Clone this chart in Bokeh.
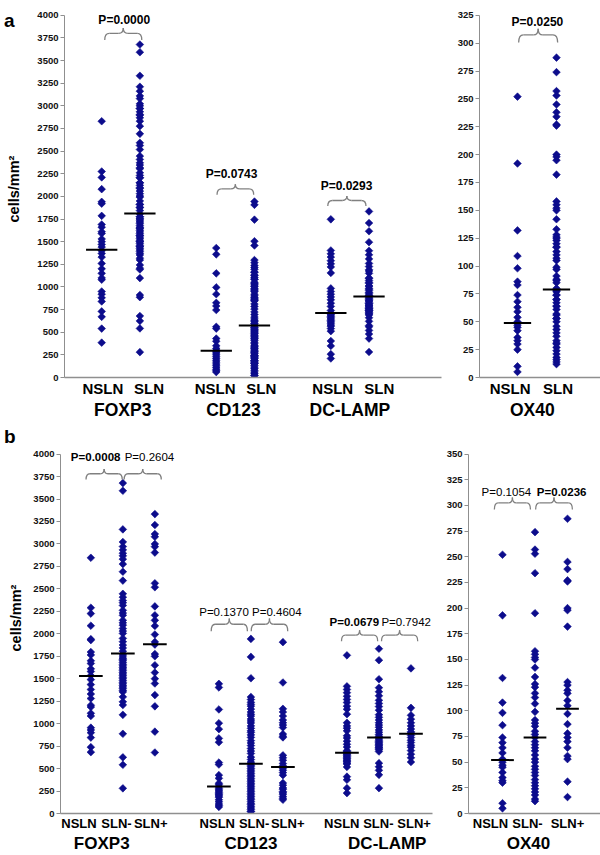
from bokeh.plotting import figure
from bokeh.models import Range1d, LinearAxis, FixedTicker, SingleIntervalTicker, Label, ColumnDataSource
from bokeh.layouts import row, column
from bokeh.embed import file_html
from bokeh.resources import INLINE

# ---------------- categories ----------------
groups_main = ["FOXP3", "CD123", "DC-LAMP"]
groups_ox = ["OX40"]
subs_a = ["NSLN", "SLN"]
subs_b = ["NSLN", "SLN-", "SLN+"]

# ---------------- panel b values (cells/mm2) ----------------
b_foxp3_nsln = [2846, 2290, 2225, 2090, 1940, 1930, 1797, 1765, 1700, 1670, 1610, 1580, 1535, 1490,
                1435, 1380, 1330, 1280, 1205, 1185, 1115, 1085, 955, 930, 900, 845, 738, 683]
b_foxp3_slnneg = [3677, 3592, 3162, 3022, 2971, 2934, 2897, 2868, 2831, 2776, 2691, 2592, 2445, 2408,
                  2371, 2346, 2316, 2261, 2232, 2206, 2151, 2122, 2096, 2059, 2030, 2004, 1949, 1912,
                  1875, 1843, 1807, 1775, 1752, 1730, 1716, 1700, 1680, 1660, 1643, 1625, 1607, 1590,
                  1570, 1552, 1535, 1516, 1500, 1480, 1460, 1443, 1425, 1407, 1390, 1370, 1353, 1298,
                  1243, 1207, 1098, 887, 625, 542, 280]
b_foxp3_slnpos = [3332, 3211, 3110, 3080, 3000, 2970, 2904, 2562, 2518, 2305, 2206, 2150, 2088, 1992,
                  1910, 1880, 1775, 1750, 1650, 1568, 1500, 1447, 1318, 1193, 911, 679]

b_cd123_nsln = [1443, 1403, 1158, 1005, 939, 836, 793, 567, 545, 427, 391, 336, 320, 299, 280, 263,
                250, 235, 220, 208, 195, 180, 153, 130, 106, 90, 73]
b_cd123_slnneg = [1943, 1743, 1505, 1297, 1268, 1238, 1215, 1195, 1162, 1130, 1105, 1085, 1052, 1030,
                  1008, 975, 948, 920, 902, 875, 847, 811, 785, 756, 723, 695, 668, 628, 600, 573,
                  556, 537, 520, 500, 482, 464, 445, 427, 410, 390, 372, 354, 336, 318, 300, 282,
                  262, 244, 225, 208, 190, 172, 155, 135, 115, 99, 80, 62, 45, 25, 20]
b_cd123_slnpos = [1907, 1458, 1165, 1130, 1085, 1040, 1010, 985, 957, 884, 860, 847, 647, 620, 592,
                  556, 530, 505, 482, 455, 427, 340, 315, 285, 270, 244, 230, 215, 190, 170, 153]

b_dclamp_nsln = [1760, 1415, 1380, 1345, 1305, 1270, 1235, 1195, 1160, 1105, 1010, 975, 950, 920,
                 865, 840, 805, 770, 740, 700, 690, 680, 665, 660, 645, 635, 620, 610, 595, 585,
                 575, 560, 550, 518, 410, 375, 282, 227]
b_dclamp_slnneg = [1834, 1706, 1494, 1400, 1355, 1310, 1260, 1225, 1190, 1150, 1100, 1070, 1040, 1010,
                   985, 960, 930, 905, 880, 860, 847, 830, 815, 800, 790, 775, 765, 755, 740, 735,
                   720, 710, 690, 560, 520, 480, 430, 282]
b_dclamp_slnpos = [1615, 1176, 1093, 1050, 1010, 975, 940, 910, 895, 870, 845, 815, 790, 760, 738,
                   700, 660, 620, 573]

b_ox40_nsln = [252, 193, 132, 108, 98, 86, 74, 69, 64, 59, 53, 50, 47, 45, 40, 35, 32, 30, 10, 5]
b_ox40_slnneg = [274, 257, 253, 234, 195, 158, 155, 152, 150, 142, 133, 126, 123, 117, 113, 107, 99,
                 91, 88, 85, 80, 77, 74, 70, 67, 64, 61, 57, 53, 50, 46, 43, 40, 37, 33, 30, 27,
                 24, 21, 18, 14, 12]
b_ox40_slnpos = [287, 245, 238, 227, 226, 200, 198, 182, 128, 125, 120, 117, 110, 105, 97, 87, 78,
                 74, 70, 64, 56, 53, 31, 16]

# ---------------- panel a NSLN values (SLN = SLN- and SLN+ together) ----------------
a_foxp3_nsln = [2830, 2275, 2210, 2080, 1940, 1920, 1785, 1690, 1660, 1610, 1590, 1530, 1500, 1470,
                1440, 1400, 1370, 1330, 1260, 1200, 1150, 1100, 1080, 950, 920, 880, 840, 730, 670,
                540, 385]
a_cd123_nsln = [1430, 1360, 1150, 995, 920, 825, 790, 745, 560, 540, 430, 400, 350, 320, 300, 285,
                270, 250, 230, 210, 190, 170, 150, 130, 110, 90, 75, 60]
a_dclamp_nsln = [1747, 1403, 1366, 1330, 1290, 1255, 1221, 1155, 984, 950, 920, 890, 858, 821, 785,
                 740, 712, 700, 690, 675, 660, 645, 630, 615, 600, 580, 567, 540, 512, 403, 349,
                 258, 210]
a_ox40_nsln = [252, 192, 132, 109, 98, 86, 83, 74, 68, 63, 59, 54, 50, 47, 45, 42, 36, 33, 30, 25,
               10, 5]

# ---------------- medians ----------------
medians_a = [[1410, 1810], [295, 575], [712, 895]]
medians_a_ox40 = [[49, 79]]
medians_b = [[1530, 1780, 1885], [300, 555, 518], [676, 847, 888]]
medians_b_ox40 = [[52, 74, 102]]

# ---------------- p values ----------------
pvals_a = [["0.0000"], ["0.0743"], ["0.0293"]]
pvals_a_ox40 = [["0.0250"]]
pvals_b = [["0.0008", "0.2604"], ["0.1370", "0.4604"], ["0.0679", "0.7942"]]
pvals_b_ox40 = [["0.1054", "0.0236"]]

# ---------------- tables built from the lists ----------------
cols_a = [[a_foxp3_nsln, b_foxp3_slnneg + b_foxp3_slnpos],
          [a_cd123_nsln, b_cd123_slnneg + b_cd123_slnpos],
          [a_dclamp_nsln, b_dclamp_slnneg + b_dclamp_slnpos]]
cols_a_ox40 = [[a_ox40_nsln, b_ox40_slnneg + b_ox40_slnpos]]
cols_b = [[b_foxp3_nsln, b_foxp3_slnneg, b_foxp3_slnpos],
          [b_cd123_nsln, b_cd123_slnneg, b_cd123_slnpos],
          [b_dclamp_nsln, b_dclamp_slnneg, b_dclamp_slnpos]]
cols_b_ox40 = [[b_ox40_nsln, b_ox40_slnneg, b_ox40_slnpos]]

# ---------------- layout / style ----------------
FONT = "Liberation Sans"
DOT = "#0c0c8c"
GRAY = "#8f8f8f"
BRACE = "#808080"

# annotation placement: (text_x, text_y, brace_x0, brace_x1, brace_tip_y, brace_end_y)
ann_a = [[(1.59, 3946, 1.08, 2.05, 3859, 3728)],
         [(4.40, 2250, 4.02, 4.98, 2135, 2018)],
         [(7.41, 2115, 6.92, 7.92, 2004, 1895)]]
ann_a_ox40 = [[(1.51, 319, 1.03, 2.03, 313, 300.5)]]
ann_b = [[(1.15, 3970, 0.85, 1.98, 3835, 3716), (2.83, 3970, 2.04, 3.20, 3835, 3716)],
         [(5.16, 2247, 4.76, 5.89, 2170, 2028), (6.81, 2247, 6.01, 7.15, 2170, 2028)],
         [(9.23, 2126, 8.83, 9.96, 2039, 1918), (10.85, 2126, 10.08, 11.21, 2039, 1918)]]
ann_b_ox40 = [[(1.12, 313, 0.75, 1.86, 307.7, 296), (2.82, 313, 2.02, 3.15, 307.7, 296)]]


def build(width, height, borders, top_px, slot_px, x_start, y_max, y_step, groups, subs, cols,
          meds, half, sub_pos, grp_pos, sub_font, grp_font, pvals, anns, p_font,
          y_label=None, y_label_standoff=4, tag=None, tag_py=None, tag_standoff=-10):
    # top_px: distance in pixels from the figure's top edge to the y_max tick
    left, right, bottom = borders
    frame_w = width - left - right
    frame_h = height - bottom
    x_end = x_start + frame_w / slot_px
    y_end = y_max * frame_h / (frame_h - top_px)
    p = figure(width=width, height=height, x_range=Range1d(x_start, x_end),
               y_range=Range1d(0, y_end), output_backend="svg", toolbar_location=None,
               x_axis_type=None, y_axis_type=None,
               min_border_left=left, min_border_right=right,
               min_border_top=0, min_border_bottom=bottom)
    p.outline_line_color = None
    p.border_fill_color = "white"

    def dy(py):
        return y_end * (1 - py / frame_h)

    n_sub = len(subs)
    xs, ys, mx0, mx1, my = [], [], [], [], []
    for gi, (gcols, gmeds) in enumerate(zip(cols, meds)):
        for si, (vals, med) in enumerate(zip(gcols, gmeds)):
            slot = gi * (n_sub + 1) + si + 1
            xs += [slot] * len(vals)
            ys += list(vals)
            mx0.append(slot - half)
            mx1.append(slot + half)
            my.append(med)
    p.scatter(x="x", y="y", source=ColumnDataSource(dict(x=xs, y=ys)), marker="square",
              angle=0.785398, size=5.4, fill_color=DOT, line_color=DOT, line_width=0.6)
    p.segment(x0=mx0, y0=my, x1=mx1, y1=my, line_color="black", line_width=2)

    # braces + p-values
    q = dict(x0=[], y0=[], x1=[], y1=[], cx=[], cy=[])
    s = dict(x0=[], y0=[], x1=[], y1=[])
    for gp, ga in zip(pvals, anns):
        for pv, (tx, ty, bx0, bx1, yt, ye) in zip(gp, ga):
            bold = float(pv) < 0.1
            p.add_layout(Label(x=tx, y=ty, text="P=" + pv, text_align="center",
                               text_baseline="middle", text_font=FONT, text_font_size=p_font,
                               text_font_style="bold" if bold else "normal", text_color="black"))
            ym = ye + 0.55 * (yt - ye)
            xc = 0.5 * (bx0 + bx1)
            r = min(0.12, (bx1 - bx0) / 4)
            for a0, b0, a1, b1, c0, c1 in [(bx0, ye, bx0 + r, ym, bx0, ym),
                                           (xc - r, ym, xc, yt, xc, ym),
                                           (xc, yt, xc + r, ym, xc, ym),
                                           (bx1 - r, ym, bx1, ye, bx1, ym)]:
                q["x0"].append(a0); q["y0"].append(b0); q["x1"].append(a1)
                q["y1"].append(b1); q["cx"].append(c0); q["cy"].append(c1)
            for a0, a1 in [(bx0 + r, xc - r), (xc + r, bx1 - r)]:
                s["x0"].append(a0); s["x1"].append(a1); s["y0"].append(ym); s["y1"].append(ym)
    p.quadratic(x0="x0", y0="y0", x1="x1", y1="y1", cx="cx", cy="cy",
                source=ColumnDataSource(q), line_color=BRACE, line_width=1.3)
    p.segment(x0="x0", y0="y0", x1="x1", y1="y1", source=ColumnDataSource(s),
              line_color=BRACE, line_width=1.3)

    # y axis (line and ticks limited to 0..y_max)
    yax = LinearAxis(ticker=SingleIntervalTicker(interval=y_step, num_minor_ticks=0),
                     bounds=(0, y_max))
    yax.axis_line_color = GRAY
    yax.major_tick_line_color = GRAY
    yax.major_tick_out = 4
    yax.major_tick_in = 0
    yax.minor_tick_line_color = None
    yax.major_label_standoff = 2
    yax.major_label_text_font = FONT
    yax.major_label_text_font_size = "9.5px"
    yax.major_label_text_font_style = "bold"
    yax.major_label_text_color = "#111111"
    if y_label:
        yax.axis_label = y_label
        yax.axis_label_text_font = FONT
        yax.axis_label_text_font_size = "14.5px"
        yax.axis_label_text_font_style = "bold"
        yax.axis_label_text_color = "black"
        yax.axis_label_standoff = y_label_standoff
    p.add_layout(yax, "left")

    if tag:
        ty = dy(tag_py)
        tax = LinearAxis(ticker=FixedTicker(ticks=[ty], minor_ticks=[]),
                         major_label_overrides={ty: tag})
        tax.axis_line_color = None
        tax.major_tick_line_color = None
        tax.minor_tick_line_color = None
        tax.major_tick_out = 0
        tax.major_tick_in = 0
        tax.major_label_standoff = tag_standoff
        tax.major_label_text_font = FONT
        tax.major_label_text_font_size = "19px"
        tax.major_label_text_font_style = "bold"
        tax.major_label_text_color = "black"
        p.add_layout(tax, "left")

    # sub-category axis
    sub_names = subs * len(groups)
    xax = LinearAxis(ticker=FixedTicker(ticks=sub_pos, minor_ticks=[]),
                     major_label_overrides={k: v for k, v in zip(sub_pos, sub_names)})
    xax.axis_line_color = GRAY
    xax.axis_line_width = 1.5
    xax.major_tick_line_color = None
    xax.minor_tick_line_color = None
    xax.major_tick_out = 0
    xax.major_tick_in = 0
    xax.major_label_standoff = 2
    xax.major_label_text_font = FONT
    xax.major_label_text_font_size = sub_font
    xax.major_label_text_font_style = "bold"
    xax.major_label_text_color = "black"
    p.add_layout(xax, "below")

    # group axis
    gax = LinearAxis(ticker=FixedTicker(ticks=grp_pos, minor_ticks=[]),
                     major_label_overrides={k: v for k, v in zip(grp_pos, groups)})
    gax.axis_line_color = None
    gax.major_tick_line_color = None
    gax.minor_tick_line_color = None
    gax.major_tick_out = 0
    gax.major_tick_in = 0
    gax.major_label_standoff = 0
    gax.major_label_text_font = FONT
    gax.major_label_text_font_size = grp_font
    gax.major_label_text_font_style = "bold"
    gax.major_label_text_color = "black"
    p.add_layout(gax, "below")
    return p


# top row: height 422, frame bottom at 382, 4000/325 tick at 15
pa1 = build(448, 422, (56, 7, 40), 15, 39.0, 0.026, 4000, 250, groups_main, subs_a, cols_a, medians_a,
            0.41, [1.03, 2.24, 3.97, 5.18, 7.05, 8.27], [1.55, 4.45, 7.5], "15px", "17.5px",
            pvals_a, ann_a, "12px", y_label="cells/mm²", y_label_standoff=12,
            tag="a", tag_py=1, tag_standoff=-11)
pa2 = build(152, 422, (31, 0, 40), 15, 39.0, 0.026, 325, 25, groups_ox, subs_a, cols_a_ox40,
            medians_a_ox40, 0.35, [0.81, 2.04], [1.38], "15px", "17.5px", pvals_a_ox40, ann_a_ox40,
            "12px")
# bottom row: height 433, frame bottom at local 396, 4000/350 tick at local 32
pb1 = build(440, 433, (52, 8, 37), 32, 32.7, 0.052, 4000, 250, groups_main, subs_b, cols_b, medians_b,
            0.37, [0.63, 1.8, 2.87, 4.95, 6.1, 7.15, 8.84, 9.98, 11.1], [1.34, 6.0, 10.26],
            "13px", "17px", pvals_b, ann_b, "11.5px", y_label="cells/mm²", y_label_standoff=6,
            tag="b", tag_py=14, tag_standoff=-10)
pb2 = build(160, 433, (28, 0, 37), 32, 32.5, -0.046, 350, 25, groups_ox, subs_b, cols_b_ox40,
            medians_b_ox40, 0.35, [0.63, 1.77, 3.0], [1.8], "13px", "17px", pvals_b_ox40,
            ann_b_ox40, "11.5px")

layout = column(row(pa1, pa2, spacing=0), row(pb1, pb2, spacing=0), spacing=0)
open("out.html", "w").write(file_html(layout, INLINE))
